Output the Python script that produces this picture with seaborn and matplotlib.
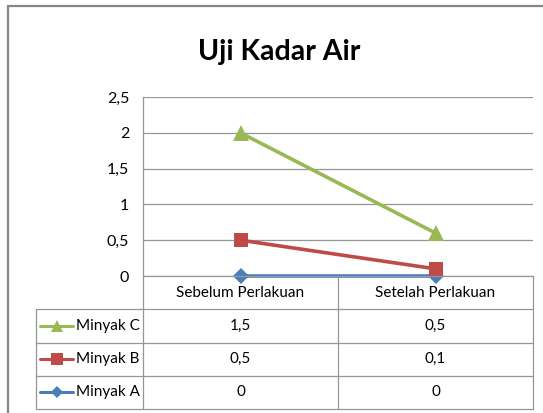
import matplotlib
matplotlib.use("Agg")
import matplotlib.pyplot as plt
from matplotlib.lines import Line2D
from matplotlib.ticker import FuncFormatter
import numpy as np
import pandas as pd
import seaborn as sns

categories = ["Sebelum Perlakuan", "Setelah Perlakuan"]
series = ["Minyak A", "Minyak B", "Minyak C"]
minyak_a = [0, 0]
minyak_b = [0.5, 0.1]
minyak_c = [1.5, 0.5]
yticks = [0, 0.5, 1, 1.5, 2, 2.5]

colors = {"Minyak A": "#4A7EBB", "Minyak B": "#BE4B48", "Minyak C": "#98B954"}
markers = {"Minyak A": "D", "Minyak B": "s", "Minyak C": "^"}
marker_sizes = {"Minyak A": 8.5, "Minyak B": 10.5, "Minyak C": 12}
key_sizes = {"Minyak A": 6, "Minyak B": 8, "Minyak C": 8}
grid_color = "#969696"

W, H = 543, 413


def fx(px):
    return px / W


def fy(py):
    return 1 - py / H


def comma(v):
    return f"{v:g}".replace(".", ",")


sns.set_theme(style="white")
plt.rcParams["font.family"] = ["Lato", "DejaVu Sans"]
plt.rcParams["text.color"] = "black"

fig = plt.figure(figsize=(W / 100, H / 100), dpi=100)

# stacked line chart: every series sits on top of the ones before it
values = np.array([minyak_a, minyak_b, minyak_c], dtype=float)
stacked = values.cumsum(axis=0)
df = pd.DataFrame({
    "series": np.repeat(series, len(categories)),
    "pos": np.tile(np.arange(len(categories)), len(series)),
    "value": stacked.ravel(),
})

ax = fig.add_axes([fx(143), fy(276), (533 - 143) / W, (276 - 97) / H])
for name in series:
    sns.lineplot(data=df[df["series"] == name], x="pos", y="value",
                 color=colors[name], marker=markers[name],
                 markersize=marker_sizes[name], markeredgewidth=0,
                 linewidth=2.6, legend=False, ax=ax)
for line in ax.lines:
    line.set_clip_on(False)

ax.set_xlim(-0.5, len(categories) - 0.5)
ax.set_ylim(0, 2.5)
ax.set_yticks(yticks)
ax.yaxis.set_major_formatter(FuncFormatter(lambda v, _: comma(v)))
ax.set_xticks([])
ax.set_xlabel("")
ax.set_ylabel("")
ax.yaxis.grid(True, color=grid_color, linewidth=0.9)
ax.tick_params(axis="y", length=0, pad=10, labelsize=11.5, labelcolor="black")
for side in ["top", "right"]:
    ax.spines[side].set_visible(False)
for side in ["left", "bottom"]:
    ax.spines[side].set_color(grid_color)
    ax.spines[side].set_linewidth(0.9)

# data table under the plot, sharing the category positions
unit = (533 - 143) / len(categories)
x_left = -0.5 - (143 - 36) / unit
x_right = len(categories) - 0.5
tax = fig.add_axes([fx(36), fy(409), (533 - 36) / W, (409 - 276) / H])
tax.set_xlim(x_left, x_right)
tax.set_ylim(4, 0)
tax.axis("off")

lk = dict(color=grid_color, linewidth=0.9, clip_on=False)
for r in range(1, 5):
    tax.plot([x_left, x_right], [r, r], **lk)
tax.plot([x_left, x_left], [1, 4], **lk)
for c in np.arange(len(categories) + 1) - 0.5:
    tax.plot([c, c], [0, 4], **lk)

for j, cat in enumerate(categories):
    tax.text(j, 0.5, cat, ha="center", va="center", fontsize=11)

row_order = ["Minyak C", "Minyak B", "Minyak A"]
row_values = {"Minyak A": minyak_a, "Minyak B": minyak_b, "Minyak C": minyak_c}
for i, name in enumerate(row_order):
    y = i + 1.5
    k0 = x_left + 4 / unit
    k1 = x_left + 37 / unit
    tax.plot([k0, k1], [y, y], color=colors[name], linewidth=2.2)
    tax.plot([(k0 + k1) / 2], [y], marker=markers[name], color=colors[name],
             markersize=key_sizes[name], markeredgewidth=0)
    tax.text(x_left + 40 / unit, y, name, ha="left", va="center", fontsize=11)
    for j, v in enumerate(row_values[name]):
        tax.text(j, y, comma(v), ha="center", va="center", fontsize=11)

fig.text(fx(279), fy(60), "Uji Kadar Air", ha="center", va="baseline",
         fontsize=20.5, fontweight="bold")

# outer chart frame (cut off on the right and bottom)
frame = dict(color="#868686", linewidth=1.6)
fig.add_artist(Line2D([fx(7.5), fx(7.5)], [0, fy(6)], **frame))
fig.add_artist(Line2D([fx(7.5), 1], [fy(6), fy(6)], **frame))

fig.savefig("out.png", dpi=100)
